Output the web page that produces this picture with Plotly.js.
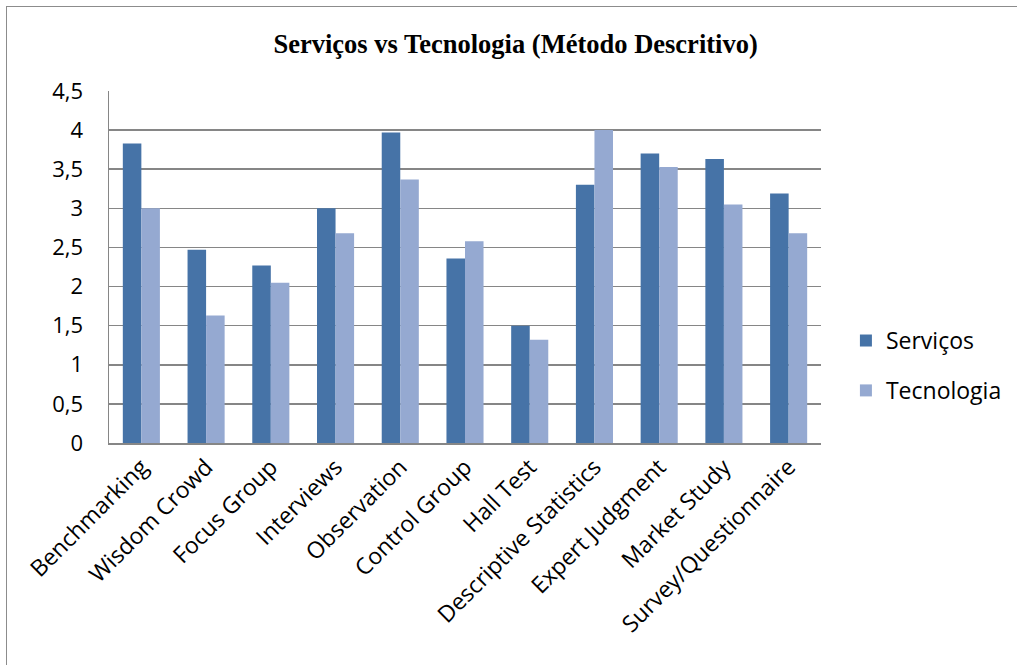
<!DOCTYPE html>
<html>
<head>
<meta charset="utf-8">
<script src="https://cdn.plot.ly/plotly-3.0.1.min.js"></script>
<style>
  html, body { margin: 0; padding: 0; background: #fff; }
  #wrap { position: relative; width: 1017px; height: 665px; overflow: hidden; }
  #frame { position: absolute; left: 6px; top: 6px; width: 1100px; height: 800px;
           border-left: 1.5px solid #8c8c8c; border-top: 1.5px solid #8c8c8c; pointer-events: none; }
  #chart { position: absolute; left: 0; top: 0; width: 1017px; height: 665px; }
</style>
</head>
<body>
<div id="wrap">
  <div id="chart"></div>
  <div id="frame"></div>
</div>
<script>
// Métodos avaliados
const categories = [
  "Benchmarking", "Wisdom Crowd", "Focus Group", "Interviews", "Observation",
  "Control Group", "Hall Test", "Descriptive Statistics", "Expert Judgment",
  "Market Study", "Survey/Questionnaire"
];

// Pontuação média por setor
const servicos   = [3.83, 2.47, 2.27, 3.00, 3.97, 2.36, 1.50, 3.30, 3.70, 3.63, 3.19];
const tecnologia = [3.00, 1.63, 2.05, 2.68, 3.37, 2.58, 1.32, 4.00, 3.53, 3.05, 2.68];

const yTicks = [0, 0.5, 1, 1.5, 2, 2.5, 3, 3.5, 4, 4.5];

const sans = "'Open Sans', Lato, sans-serif";
const xFont = { family: sans, size: 23, color: "#000" };
const yFont = { family: sans, size: 22, color: "#000" };
const legendFont = { family: sans, size: 23, color: "#000" };

const traces = [
  { type: "bar", name: "Serviços", x: categories, y: servicos,
    marker: { color: "#4673A7" }, legendgroup: "s", hoverinfo: "x+y" },
  { type: "bar", name: "Tecnologia", x: categories, y: tecnologia,
    marker: { color: "#95A9D1" }, legendgroup: "t", hoverinfo: "x+y" }
];

const layout = {
  width: 1017, height: 665,
  paper_bgcolor: "#fff", plot_bgcolor: "#fff",
  separators: ",.",
  margin: { l: 109, r: 196, t: 91, b: 222, autoexpand: false },
  barmode: "group", bargap: 0.427, bargroupgap: 0,
  title: {
    text: "<b>Serviços vs Tecnologia (Método Descritivo)</b>",
    font: { family: "'Liberation Serif', 'Times New Roman', serif", size: 26.5, color: "#000" },
    x: 0.507, xref: "container", xanchor: "center",
    y: 1 - 44 / 665, yref: "container", yanchor: "middle"
  },
  xaxis: {
    type: "category", tickangle: -45, tickfont: xFont,
    showline: true, linecolor: "#868686", linewidth: 1.5,
    showgrid: false, ticks: "", ticklen: 0, mirror: false, automargin: false
  },
  yaxis: {
    range: [0, 4.5], tickmode: "array", tickvals: yTicks,
    tickfont: yFont, ticklabelstandoff: 20,
    showgrid: true, gridcolor: "#868686", gridwidth: 1.5,
    showline: true, linecolor: "#868686", linewidth: 1.5,
    zeroline: false, ticks: "", automargin: false
  },
  showlegend: true,
  legend: {
    x: 1.035, xanchor: "left", y: 0.22, yanchor: "middle",
    font: legendFont, traceorder: "grouped", tracegroupgap: 17,
    itemwidth: 30, bgcolor: "rgba(0,0,0,0)"
  }
};

Plotly.newPlot("chart", traces, layout, { displayModeBar: false, staticPlot: true });
</script>
</body>
</html>
